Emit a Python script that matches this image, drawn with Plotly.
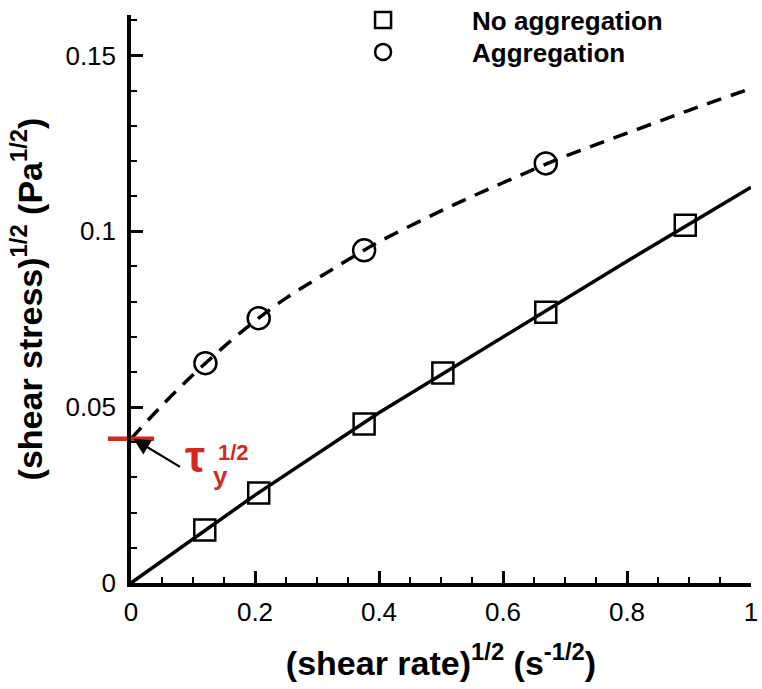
import plotly.graph_objects as go

# Data
x_sq = [0.119, 0.206, 0.376, 0.503, 0.669, 0.894]
y_sq = [0.0151, 0.0256, 0.0452, 0.0597, 0.0770, 0.1017]

x_ci = [0.120, 0.206, 0.376, 0.669]
y_ci = [0.0625, 0.0753, 0.0946, 0.1193]

fit_no_x = [0.0, 0.2, 0.4, 0.6, 0.8, 1.0]
fit_no_y = [0.0, 0.0250, 0.0484, 0.0700, 0.0915, 0.1125]

fit_ag_x = [0.0, 0.05, 0.1, 0.15, 0.2, 0.25, 0.3, 0.35, 0.4, 0.5, 0.6, 0.7, 0.8, 0.9, 1.0]
fit_ag_y = [0.041, 0.0505, 0.0592, 0.0672, 0.0745, 0.0810, 0.0865, 0.0919, 0.0970,
            0.1058, 0.1138, 0.1213, 0.1279, 0.1344, 0.1406]

tau_y = 0.041

x_ticks = [0, 0.2, 0.4, 0.6, 0.8, 1]
x_ticklabels = ["0", "0.2", "0.4", "0.6", "0.8", "1"]
y_ticks = [0, 0.05, 0.1, 0.15]
y_ticklabels = ["0", "0.05", "0.1", "0.15"]

FONT = "Liberation Sans, Arial, sans-serif"
RED = "#d42a1e"

fig = go.Figure()

fig.add_trace(go.Scatter(x=fit_no_x, y=fit_no_y, mode="lines",
                         line=dict(color="black", width=3.5), showlegend=False))
fig.add_trace(go.Scatter(x=fit_ag_x, y=fit_ag_y, mode="lines", line_shape="spline",
                         line=dict(color="black", width=3.5, dash="15px,10px"),
                         showlegend=False))
fig.add_trace(go.Scatter(x=x_sq, y=y_sq, mode="markers", name="No aggregation",
                         legend="legend",
                         marker=dict(symbol="square-open", size=21, color="black",
                                     line=dict(width=2.5, color="black"))))
fig.add_trace(go.Scatter(x=x_ci, y=y_ci, mode="markers", name="Aggregation",
                         legend="legend2",
                         marker=dict(symbol="circle-open", size=22, color="black",
                                     line=dict(width=2.5, color="black"))))

# red intercept tick on the y axis
fig.add_trace(go.Scatter(x=[0], y=[tau_y], mode="markers", showlegend=False,
                         cliponaxis=False,
                         marker=dict(symbol="line-ew-open", size=33, color=RED,
                                     line=dict(width=4.5, color=RED))))

# arrow
fig.add_annotation(x=0.004, y=tau_y, xref="x", yref="y", text="", showarrow=True,
                   ax=48, ay=29, arrowhead=2, arrowsize=1.5, arrowwidth=2.2,
                   arrowcolor="black", standoff=0)
# tau_y^(1/2) label
fig.add_annotation(x=0.104, y=0.0360, xref="x", yref="y", text="τ", showarrow=False,
                   font=dict(family=FONT, size=45, color=RED, weight="bold"))
fig.add_annotation(x=0.145, y=0.0303, xref="x", yref="y", text="y", showarrow=False,
                   font=dict(family=FONT, size=26, color=RED, weight="bold"))
fig.add_annotation(x=0.166, y=0.0372, xref="x", yref="y", text="1/2", showarrow=False,
                   font=dict(family=FONT, size=22, color=RED, weight="bold"))

legend_style = dict(xanchor="left", yanchor="middle", bgcolor="rgba(0,0,0,0)",
                    itemwidth=168,
                    font=dict(family=FONT, size=26, color="black", weight="bold"))

fig.update_layout(
    width=762, height=689,
    margin=dict(l=131, r=11, t=15, b=106, autoexpand=False),
    paper_bgcolor="white", plot_bgcolor="white",
    font=dict(family=FONT, color="black"),
    legend=dict(x=0.263, y=(583 - 20) / 568, **legend_style),
    legend2=dict(x=0.263, y=(583 - 52) / 568, **legend_style),
    xaxis=dict(range=[0, 1], tickvals=x_ticks, ticktext=x_ticklabels,
               automargin=False, ticklabelstandoff=3,
               ticks="inside", ticklen=12, tickwidth=2.5, tickcolor="black",
               showline=True, linewidth=3.5, linecolor="black", showgrid=False,
               zeroline=False, tickfont=dict(size=26),
               minor=dict(dtick=0.05, ticks="inside", ticklen=6, tickwidth=1.5,
                          tickcolor="black", showgrid=False),
               title=dict(text="(shear rate)<sup>1/2</sup> (s<sup>-1/2</sup>)",
                          font=dict(size=34, weight="bold"), standoff=26)),
    yaxis=dict(range=[0, 0.1615], tickvals=y_ticks, ticktext=y_ticklabels,
               automargin=False, ticklabelstandoff=6,
               ticks="inside", ticklen=12, tickwidth=2.5, tickcolor="black",
               showline=True, linewidth=3.5, linecolor="black", showgrid=False,
               zeroline=False, tickfont=dict(size=26),
               minor=dict(dtick=0.01, ticks="inside", ticklen=6, tickwidth=1.5,
                          tickcolor="black", showgrid=False),
               title=dict(text="(shear stress)<sup>1/2</sup> (Pa<sup>1/2</sup>)",
                          font=dict(size=34, weight="bold"), standoff=14)),
)

fig.write_html("out.html", config={"displayModeBar": False},
               post_script="document.body.style.margin='0px';")
